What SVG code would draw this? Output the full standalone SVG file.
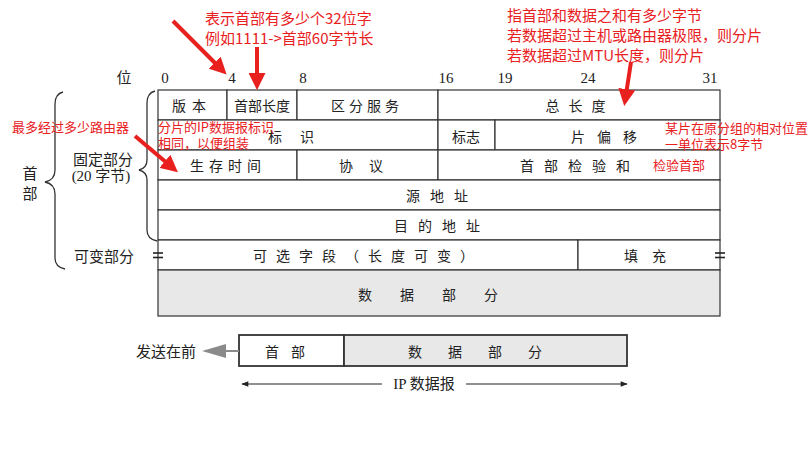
<svg xmlns="http://www.w3.org/2000/svg" width="810" height="455" viewBox="0 0 810 455">
<style>
.cell{fill:#fff;stroke:#333;stroke-width:1.2}
.gray{fill:#e8e8e8;stroke:#333;stroke-width:1.2}
.t{font-family:"Noto Sans CJK SC",sans-serif;font-size:14px;fill:#222;text-anchor:middle;dominant-baseline:central}
.n{font-family:"Liberation Serif",serif;font-size:15px;fill:#222;text-anchor:middle}
.lbl{font-family:"Noto Sans CJK SC",sans-serif;font-size:15px;fill:#222;dominant-baseline:central}
.red{font-family:"Noto Sans CJK SC",sans-serif;fill:#e8201e}
.brace{fill:none;stroke:#333;stroke-width:1.3}
.ra{stroke:#e8201e;stroke-width:4;fill:none;marker-end:url(#rh)}
.bb{stroke-width:1.8}
</style>
<defs>
<marker id="rh" viewBox="0 0 10 10" refX="7" refY="5" markerWidth="17" markerHeight="17" markerUnits="userSpaceOnUse" orient="auto">
<path d="M0,0 L10,5 L0,10 z" fill="#e8201e"/>
</marker>
<marker id="bh" viewBox="0 0 10 10" refX="9" refY="5" markerWidth="9" markerHeight="7" markerUnits="userSpaceOnUse" orient="auto">
<path d="M0,1 L10,5 L0,9 z" fill="#222"/>
</marker>
</defs>
<rect width="810" height="455" fill="#fff"/>

<g id="bit-labels">
<text x="124" y="83" class="lbl" style="font-family:'Liberation Serif','Noto Sans CJK SC',serif;dominant-baseline:auto" text-anchor="middle">位</text>
<text x="165" y="83" class="n">0</text>
<text x="232" y="83" class="n">4</text>
<text x="303" y="83" class="n">8</text>
<text x="446" y="83" class="n">16</text>
<text x="505" y="83" class="n">19</text>
<text x="588" y="83" class="n">24</text>
<text x="710" y="83" class="n">31</text>
</g>

<g id="version"><rect class="cell" x="158" y="90" width="69" height="30"/><text class="t" x="192" y="105" letter-spacing="6">版本</text></g>
<g id="ihl"><rect class="cell" x="227" y="90" width="70" height="30"/><text class="t" x="262" y="105">首部长度</text></g>
<g id="tos"><rect class="cell" x="297" y="90" width="141" height="30"/><text class="t" x="367" y="105" letter-spacing="4">区分服务</text></g>
<g id="total-length"><rect class="cell" x="438" y="90" width="282" height="30"/><text class="t" x="580" y="105" letter-spacing="9">总长度</text></g>

<g id="identification"><rect class="cell" x="158" y="120" width="280" height="30"/><text class="t" x="300" y="136" letter-spacing="18">标识</text></g>
<g id="flags"><rect class="cell" x="438" y="120" width="57" height="30"/><text class="t" x="466" y="136">标志</text></g>
<g id="fragment-offset"><rect class="cell" x="495" y="120" width="225" height="30"/><text class="t" x="610" y="136" letter-spacing="12">片偏移</text></g>

<g id="ttl"><rect class="cell" x="158" y="150" width="139" height="30"/><text class="t" x="228" y="165" letter-spacing="5">生存时间</text></g>
<g id="protocol"><rect class="cell" x="297" y="150" width="141" height="30"/><text class="t" x="369" y="165" letter-spacing="16">协议</text></g>
<g id="checksum"><rect class="cell" x="438" y="150" width="282" height="30"/><text class="t" x="580" y="165" letter-spacing="10">首部检验和</text></g>

<g id="src"><rect class="cell" x="158" y="180" width="562" height="30"/><text class="t" x="442" y="195" letter-spacing="10">源地址</text></g>
<g id="dst"><rect class="cell" x="158" y="210" width="562" height="30"/><text class="t" x="442" y="225" letter-spacing="10">目的地址</text></g>

<g id="options"><rect class="cell" x="158" y="240" width="420" height="30"/><text class="t" x="368" y="255" letter-spacing="9">可选字段（长度可变）</text></g>
<g id="padding"><rect class="cell" x="578" y="240" width="142" height="30"/><text class="t" x="652" y="255" letter-spacing="14">填充</text></g>
<g id="breaks" stroke="#222" stroke-width="1.6">
<line x1="153" y1="253" x2="163" y2="253"/><line x1="153" y1="257.5" x2="163" y2="257.5"/>
<line x1="715" y1="253" x2="725" y2="253"/><line x1="715" y1="257.5" x2="725" y2="257.5"/>
</g>

<g id="data"><rect class="gray" x="158" y="270" width="562" height="46"/><text class="t" x="442" y="294" letter-spacing="28">数据部分</text></g>

<g id="header-brace">
<path class="brace" d="M63,92 Q55,94 55,104 L55,170 Q55,180 45,182 Q55,184 55,194 L55,258 Q55,267 65,269"/>
<text class="lbl" x="30" y="172" text-anchor="middle">首</text>
<text class="lbl" x="30" y="192" text-anchor="middle">部</text>
</g>
<g id="fixed-brace">
<path class="brace" d="M155,91 Q147,93 147,103 L147,160 Q147,168 139,170 Q147,172 147,180 L147,230 Q147,239 157,241"/>
<text class="lbl" x="103" y="158" text-anchor="middle">固定部分</text>
<text class="lbl" x="101" y="176" text-anchor="middle" style="font-family:'Liberation Serif','Noto Sans CJK SC',serif">(20 字节)</text>
</g>
<g id="variable-label"><text class="lbl" x="104" y="255" text-anchor="middle">可变部分</text></g>

<g id="bottom-header"><rect class="cell bb" x="239" y="335" width="105" height="31"/><text class="t" x="291" y="351" letter-spacing="12">首部</text></g>
<g id="bottom-data"><rect class="gray bb" x="344" y="335" width="283" height="31"/><text class="t" x="488" y="351" letter-spacing="26">数据部分</text></g>
<g id="send-first">
<path d="M239,350 L226,350 L226,344 L202,351 L226,358 L226,352 L239,352 z" fill="#8a8a8a"/>
<text class="lbl" x="166" y="350" text-anchor="middle">发送在前</text>
</g>
<g id="connectors">
<line x1="382" y1="384" x2="242" y2="384" stroke="#222" stroke-width="1.2" marker-end="url(#bh)"/>
<line x1="466" y1="384" x2="627" y2="384" stroke="#222" stroke-width="1.2" marker-end="url(#bh)"/>
<line class="ra" x1="173" y1="21" x2="223" y2="71"/>
<line class="ra" x1="257" y1="47" x2="257" y2="85"/>
<line class="ra" x1="631" y1="62" x2="625" y2="101"/>
<line class="ra" x1="135" y1="136" x2="174" y2="169"/>
</g>
<g id="ip-datagram-label"><text class="lbl" x="424" y="384" text-anchor="middle" style="font-family:'Liberation Serif','Noto Sans CJK SC',serif">IP 数据报</text></g>

<g id="annotations" class="red">
<text x="205" y="24" font-size="15">表示首部有多少个32位字</text>
<text x="205" y="44" font-size="15">例如1111-&gt;首部60字节长</text>
<text x="507" y="21" font-size="15">指首部和数据之和有多少字节</text>
<text x="507" y="41" font-size="15">若数据超过主机或路由器极限，则分片</text>
<text x="507" y="61" font-size="15">若数据超过MTU长度，则分片</text>
<text x="12" y="132" font-size="13">最多经过多少路由器</text>
<text x="158" y="132" font-size="13">分片的IP数据报标识</text>
<text x="158" y="148" font-size="13">相同，以便组装</text>
<text x="665" y="133" font-size="13">某片在原分组的相对位置</text>
<text x="665" y="149" font-size="13">一单位表示8字节</text>
<text x="653" y="170" font-size="13">检验首部</text>
</g>
</svg>
